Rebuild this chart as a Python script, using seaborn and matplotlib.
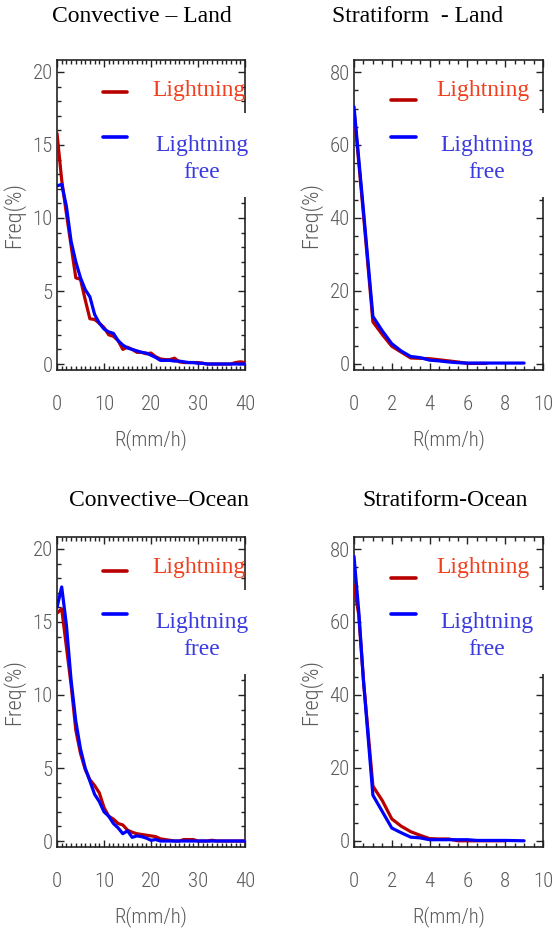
import matplotlib
matplotlib.use("Agg")
import matplotlib.pyplot as plt
import seaborn as sns
import numpy as np
import pandas as pd
from matplotlib import font_manager
from matplotlib.patches import Rectangle
from matplotlib.ticker import MultipleLocator
from matplotlib.lines import Line2D

# ---------------- data ----------------
conv_x = list(range(0, 41))
conv_land_lightning = [15.8, 12.6, 10.3, 8.1, 5.9, 5.8, 4.4, 3.1, 3.05, 2.8,
                       2.5, 2.0, 1.9, 1.6, 1.0, 1.15, 1.0, 0.8, 0.8, 0.7,
                       0.75, 0.5, 0.35, 0.3, 0.3, 0.4, 0.15, 0.1, 0.1, 0.1,
                       0.1, 0.05, 0.0, 0.0, 0.0, 0.0, 0.0, 0.0, 0.1, 0.15, 0.1]
conv_land_free = [12.2, 12.3, 10.8, 8.4, 7.0, 5.9, 5.1, 4.6, 3.4, 2.8,
                  2.4, 2.2, 2.1, 1.6, 1.3, 1.1, 1.0, 0.9, 0.8, 0.75,
                  0.6, 0.45, 0.25, 0.25, 0.25, 0.2, 0.2, 0.15, 0.1, 0.1,
                  0.05, 0.05, 0.0, 0.0, 0.0, 0.0, 0.0, 0.0, 0.0, 0.0, 0.0]
conv_ocean_lightning = [15.6, 15.9, 13.3, 10.7, 7.6, 6.0, 4.9, 4.2, 3.8, 3.3,
                        2.3, 1.7, 1.5, 1.2, 1.1, 0.75, 0.6, 0.5, 0.45, 0.4,
                        0.35, 0.3, 0.15, 0.1, 0.05, 0.0, 0.0, 0.1, 0.1, 0.1,
                        0.0, 0.0, 0.0, 0.05, 0.0, 0.0, 0.0, 0.0, 0.0, 0.0, 0.0]
conv_ocean_free = [16.0, 17.4, 14.8, 11.0, 8.2, 6.3, 5.0, 4.1, 3.2, 2.7,
                   2.0, 1.7, 1.2, 0.9, 0.5, 0.7, 0.25, 0.35, 0.3, 0.2,
                   0.05, 0.1, 0.0, 0.0, 0.0, 0.0, 0.0, 0.0, 0.0, 0.0,
                   0.0, 0.0, 0.0, 0.0, 0.0, 0.0, 0.0, 0.0, 0.0, 0.0, 0.0]

strat_land_x_l = [0, 0.5, 1, 1.5, 2, 2.5, 3, 3.5, 4, 4.5, 5, 5.5, 6, 6.5, 7]
strat_land_lightning = [69.5, 41.0, 11.5, 8.0, 4.8, 3.2, 1.6, 1.5, 1.4, 1.1, 0.8, 0.5, 0.1, 0.1, 0.1]
strat_land_x_f = [0, 0.5, 1, 1.5, 2, 2.5, 3, 3.5, 4, 4.5, 5, 5.5, 6, 7, 8, 9]
strat_land_free = [70.5, 42.0, 13.0, 9.0, 5.5, 3.5, 2.0, 1.7, 1.0, 0.8, 0.5, 0.3, 0.2, 0.2, 0.2, 0.2]

strat_ocean_x_l = [0, 0.25, 0.5, 1, 1.5, 2, 2.5, 3, 3.5, 4, 4.5, 5, 5.5, 6, 7, 8]
strat_ocean_lightning = [70.0, 62.0, 44.0, 15.0, 11.0, 6.0, 4.0, 2.5, 1.5, 0.6, 0.5, 0.5, 0.0, 0.0, 0.0, 0.0]
strat_ocean_x_f = [0, 0.25, 0.5, 1, 1.5, 2, 2.5, 3, 3.5, 4, 5, 6, 6.5, 7, 8, 9]
strat_ocean_free = [78.0, 63.0, 44.0, 12.5, 8.0, 3.5, 2.2, 1.0, 0.8, 0.3, 0.3, 0.3, 0.1, 0.1, 0.1, 0.0]

titles = ["Convective \u2013 Land", "Stratiform  - Land", "Convective\u2013Ocean", "Stratiform-Ocean"]
series_names = ["Lightning", "Lightning free"]
xlabel_text = "R(mm/h)"
ylabel_text = "Freq(%)"

# ---------------- style ----------------
sns.set_style("white")
plt.rcParams["font.family"] = ["DejaVu Sans"]

ttf = font_manager.fontManager.ttflist
names = {f.name for f in ttf}
tick_fp = None
for cand in ["Liberation Sans Narrow", "Roboto Condensed"]:
    if cand in names:
        tick_fp = font_manager.FontProperties(family=cand, size=15, weight="light")
        break
if tick_fp is None:
    if any(f.name == "DejaVu Sans" and f.stretch == "condensed" for f in ttf):
        tick_fp = font_manager.FontProperties(family="DejaVu Sans", stretch="condensed", size=13)
    else:
        tick_fp = font_manager.FontProperties(family="DejaVu Sans", size=12)
ylab_fp = tick_fp.copy()
ylab_fp.set_size(tick_fp.get_size() + 1)

serif = ["Liberation Serif", "DejaVu Serif"]
TICK_COLOR = "#5a5a5a"
RED_LINE = "#b80000"
BLUE_LINE = "#0000ff"
RED_TEXT = "#f0401e"
BLUE_TEXT = "#3a3ae0"

W, H = 552, 938
fig = plt.figure(figsize=(W / 100, H / 100), dpi=100)

def px_axes(left, top, right, bottom):
    return fig.add_axes([left / W, 1 - bottom / H, (right - left) / W, (bottom - top) / H])

panels = [
    dict(box=(57, 60, 245, 370), xmax=40, xmaj=10, xmin=1, ylim=(-0.41, 20.82), ymaj=5, ymin=1,
         data=[(conv_x, conv_land_lightning), (conv_x, conv_land_free)],
         title_xy=(142, 16), col=0),
    dict(box=(354, 60, 543, 370), xmax=10, xmaj=2, xmin=0.5, ylim=(-1.7, 83.3), ymaj=20, ymin=5,
         data=[(strat_land_x_l, strat_land_lightning), (strat_land_x_f, strat_land_free)],
         title_xy=(418, 16), col=1),
    dict(box=(57, 537, 245, 847), xmax=40, xmaj=10, xmin=1, ylim=(-0.41, 20.82), ymaj=5, ymin=1,
         data=[(conv_x, conv_ocean_lightning), (conv_x, conv_ocean_free)],
         title_xy=(159, 500), col=0),
    dict(box=(354, 537, 543, 847), xmax=10, xmaj=2, xmin=0.5, ylim=(-1.7, 83.3), ymaj=20, ymin=5,
         data=[(strat_ocean_x_l, strat_ocean_lightning), (strat_ocean_x_f, strat_ocean_free)],
         title_xy=(445, 500), col=1),
]

for i, p in enumerate(panels):
    ax = px_axes(*p["box"])
    (xl, yl), (xf, yf) = p["data"]
    df_l = pd.DataFrame({"R": xl, "Freq": yl})
    df_f = pd.DataFrame({"R": xf, "Freq": yf})
    sns.lineplot(data=df_l, x="R", y="Freq", ax=ax, color=RED_LINE, linewidth=2.3, zorder=3)
    sns.lineplot(data=df_f, x="R", y="Freq", ax=ax, color=BLUE_LINE, linewidth=2.3, zorder=4)

    ax.set_xlim(0, p["xmax"])
    ax.set_ylim(*p["ylim"])
    ax.xaxis.set_major_locator(MultipleLocator(p["xmaj"]))
    ax.xaxis.set_minor_locator(MultipleLocator(p["xmin"]))
    ax.yaxis.set_major_locator(MultipleLocator(p["ymaj"]))
    ax.yaxis.set_minor_locator(MultipleLocator(p["ymin"]))
    ax.set_yticks([t for t in np.arange(0, p["ylim"][1], p["ymaj"])])
    ax.tick_params(which="both", direction="in", top=True, right=True, left=True, bottom=True,
                   color="#222222", width=1.0)
    ax.tick_params(which="major", length=5)
    ax.tick_params(which="minor", length=3)
    ax.tick_params(axis="x", which="major", pad=18)
    ax.tick_params(axis="y", which="major", pad=3)
    for lab in ax.get_xticklabels() + ax.get_yticklabels():
        lab.set_fontproperties(tick_fp)
        lab.set_color(TICK_COLOR)
    for s in ax.spines.values():
        s.set_color("#222222")
        s.set_linewidth(1.2)
    ax.grid(False)

    ax.set_xlabel(xlabel_text, fontproperties=tick_fp, color=TICK_COLOR, labelpad=11)
    ax.set_ylabel(ylabel_text, fontproperties=ylab_fp, color=TICK_COLOR, labelpad=5)

    # white legend backing that hides part of the right spine
    left, top, right, bottom = p["box"]
    hgt = bottom - top
    y_hi = (bottom - (top + 53)) / hgt
    y_lo = (bottom - (top + 137)) / hgt
    ax.add_patch(Rectangle((0.55, y_lo), 0.5, y_hi - y_lo, transform=ax.transAxes,
                           facecolor="white", edgecolor="none", zorder=10, clip_on=False))

    if p["col"] == 0:
        lx0, lx1, red_tx, blue_tx = 0.245, 0.372, 0.505, 0.771
    else:
        lx0, lx1, red_tx, blue_tx = 0.196, 0.328, 0.434, 0.704
    red_ly = [0.897, 0.872, 0.889, 0.868][i]
    ax.add_line(Line2D([lx0, lx1], [red_ly, red_ly], transform=ax.transAxes,
                       color=RED_LINE, linewidth=2.6, zorder=11))
    ax.add_line(Line2D([lx0, lx1], [0.751, 0.751], transform=ax.transAxes,
                       color=BLUE_LINE, linewidth=2.6, zorder=11))
    ax.text(red_tx, 0.902, series_names[0], transform=ax.transAxes, ha="left", va="center",
            fontsize=17, color=RED_TEXT, family=serif, zorder=12)
    w1, w2 = series_names[1].split(" ")
    ax.text(blue_tx, 0.724, w1, transform=ax.transAxes, ha="center", va="center",
            fontsize=17, color=BLUE_TEXT, family=serif, zorder=12)
    ax.text(blue_tx, 0.637, w2, transform=ax.transAxes, ha="center", va="center",
            fontsize=17, color=BLUE_TEXT, family=serif, zorder=12)

    tx, ty = p["title_xy"]
    fig.text(tx / W, 1 - ty / H, titles[i], ha="center", va="center", fontsize=17,
             color="black", family=serif)

fig.savefig("out.png", dpi=100, facecolor="white")
